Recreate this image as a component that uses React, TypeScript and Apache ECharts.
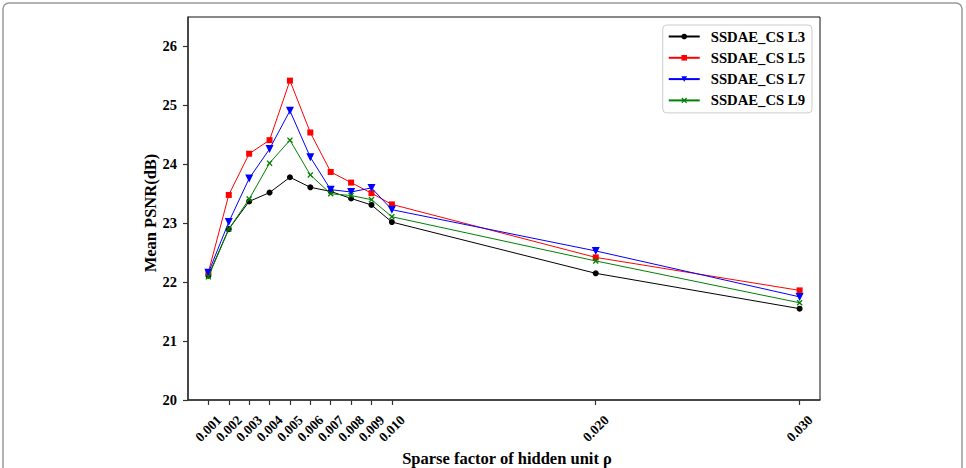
import React, { useEffect, useRef } from "react";
import * as echarts from "echarts";

const xValues = [0.001, 0.002, 0.003, 0.004, 0.005, 0.006, 0.007, 0.008, 0.009, 0.01, 0.02, 0.03];
const yTicks = [20, 21, 22, 23, 24, 25, 26];
const seriesNames = ["SSDAE_CS L3", "SSDAE_CS L5", "SSDAE_CS L7", "SSDAE_CS L9"];
const l3 = [22.11, 22.9, 23.37, 23.52, 23.78, 23.61, 23.54, 23.42, 23.31, 23.02, 22.15, 21.55];
const l5 = [22.17, 23.48, 24.18, 24.41, 25.42, 24.54, 23.87, 23.69, 23.51, 23.32, 22.42, 21.86];
const l7 = [22.16, 23.02, 23.76, 24.26, 24.91, 24.12, 23.57, 23.53, 23.6, 23.23, 22.53, 21.75];
const l9 = [22.09, 22.9, 23.41, 24.02, 24.41, 23.82, 23.5, 23.47, 23.4, 23.11, 22.36, 21.65];

const FONT = "'Liberation Serif', 'Times New Roman', serif";
const X_SYMBOL =
  "path://M0,1.6 L1.6,0 L5,3.4 L8.4,0 L10,1.6 L6.6,5 L10,8.4 L8.4,10 L5,6.6 L1.6,10 L0,8.4 L3.4,5 Z";

export default function App() {
  const ref = useRef<HTMLDivElement>(null);
  useEffect(() => {
    if (!ref.current) return;
    const chart = echarts.init(ref.current, undefined, { renderer: "svg" });
    const mk = (vals: number[]) => vals.map((v, i) => [xValues[i], v]);
    const styles = [
      { color: "#000000", symbol: "circle", size: 6, rotate: 0 },
      { color: "#ff0000", symbol: "rect", size: 6, rotate: 0 },
      { color: "#0000ff", symbol: "triangle", size: 8, rotate: 180 },
      { color: "#008000", symbol: X_SYMBOL, size: 6, rotate: 0 },
    ];
    const datas = [l3, l5, l7, l9];
    chart.setOption({
      animation: false,
      backgroundColor: "#ffffff",
      grid: {
        left: 188,
        top: 17,
        right: 146,
        bottom: 68,
        show: true,
        borderColor: "#111",
        borderWidth: 1,
        backgroundColor: "transparent",
      },
      legend: {
        orient: "vertical",
        right: 154,
        top: 25,
        itemWidth: 31,
        itemHeight: 7,
        itemGap: 6.3,
        padding: [4, 7, 5, 5],
        backgroundColor: "#ffffff",
        borderColor: "#cccccc",
        borderWidth: 1,
        borderRadius: 4,
        textStyle: {
          fontFamily: FONT,
          fontWeight: "bold",
          fontSize: 14.7,
          color: "#000",
          lineHeight: 15,
          padding: [0, 0, 0, 6],
        },
        data: seriesNames,
      },
      xAxis: {
        type: "value",
        min: 0,
        max: 0.031,
        splitLine: { show: false },
        axisLine: { show: true, onZero: false, lineStyle: { color: "#333", width: 1.5 } },
        axisTick: { show: true, length: 5, customValues: xValues, lineStyle: { color: "#333", width: 1.2 } },
        axisLabel: {
          customValues: xValues,
          formatter: (v: number) => v.toFixed(3),
          rotate: 45,
          align: "center",
          verticalAlign: "middle",
          margin: 28.5,
          fontFamily: FONT,
          fontWeight: "bold",
          fontSize: 13.5,
          color: "#000",
        },
      },
      yAxis: {
        type: "value",
        min: 20,
        max: 26.5,
        splitLine: { show: false },
        axisLine: { show: true, onZero: false, lineStyle: { color: "#333", width: 1.5 } },
        axisTick: { show: true, length: 5, customValues: yTicks, lineStyle: { color: "#333", width: 1.2 } },
        axisLabel: {
          customValues: yTicks,
          formatter: (v: number) => String(v),
          margin: 11,
          fontFamily: FONT,
          fontWeight: "bold",
          fontSize: 14.5,
          color: "#000",
        },
      },
      series: datas.map((d, i) => ({
        name: seriesNames[i],
        type: "line",
        data: mk(d),
        symbol: styles[i].symbol,
        symbolSize: styles[i].size,
        symbolRotate: styles[i].rotate,
        showAllSymbol: true,
        lineStyle: { color: styles[i].color, width: 1 },
        itemStyle: { color: styles[i].color },
        emphasis: { disabled: true },
        z: 2 + i,
      })),
      graphic: [
        {
          type: "rect",
          shape: { x: 3, y: 3, width: 959, height: 490, r: 6 },
          style: { fill: "none", stroke: "#9a9a9a", lineWidth: 1.5 },
          silent: true,
          z: 0,
        },
        {
          type: "text",
          x: 150,
          y: 213,
          rotation: Math.PI / 2,
          style: {
            text: "Mean PSNR(dB)",
            fontFamily: FONT,
            fontWeight: "bold",
            fontSize: 16.5,
            fill: "#000",
            align: "center",
            verticalAlign: "middle",
          },
        },
        {
          type: "text",
          x: 507,
          y: 458,
          style: {
            text: "Sparse factor of hidden unit ρ",
            fontFamily: FONT,
            fontWeight: "bold",
            fontSize: 16.5,
            fill: "#000",
            align: "center",
            verticalAlign: "middle",
          },
        },
      ],
    });
    return () => chart.dispose();
  }, []);
  return (
    <div
      ref={ref}
      style={{ position: "fixed", left: 0, top: 0, width: 966, height: 468 }}
    />
  );
}
